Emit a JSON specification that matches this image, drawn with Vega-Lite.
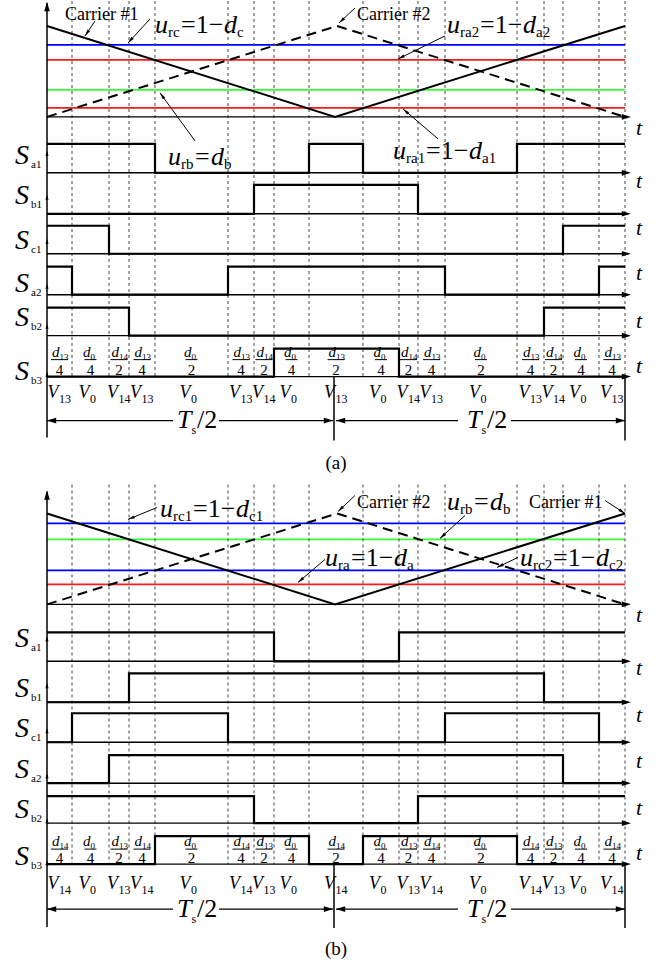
{
"$schema": "https://vega.github.io/schema/vega-lite/v6.json",
"width": 668, "height": 964, "padding": 0,
"autosize": {"type": "fit", "contains": "padding"},
"background": "white",
"config": {"view": {"stroke": null}},
"datasets": {
"levels": [
{"x":47,"x2":625,"y":44,"c":"blue"},{"x":47,"x2":625,"y":59,"c":"red"},{"x":47,"x2":625,"y":89,"c":"green"},{"x":47,"x2":625,"y":107,"c":"red"},
{"x":47,"x2":625,"y":523,"c":"blue"},{"x":47,"x2":625,"y":539,"c":"green"},{"x":47,"x2":625,"y":570,"c":"blue"},{"x":47,"x2":625,"y":584,"c":"red"}
],
"vdash": [
{"x":72,"y":0,"y2":376},{"x":109,"y":0,"y2":376},{"x":129,"y":0,"y2":376},{"x":155,"y":0,"y2":376},{"x":228,"y":0,"y2":376},{"x":254,"y":0,"y2":376},{"x":274,"y":0,"y2":376},{"x":309,"y":0,"y2":376},{"x":363,"y":0,"y2":376},{"x":399,"y":0,"y2":376},{"x":418,"y":0,"y2":376},{"x":445,"y":0,"y2":376},{"x":517,"y":0,"y2":376},{"x":544,"y":0,"y2":376},{"x":563,"y":0,"y2":376},{"x":599,"y":0,"y2":376},{"x":625,"y":0,"y2":376},
{"x":72,"y":484,"y2":864},{"x":109,"y":484,"y2":864},{"x":129,"y":484,"y2":864},{"x":155,"y":484,"y2":864},{"x":228,"y":484,"y2":864},{"x":254,"y":484,"y2":864},{"x":274,"y":484,"y2":864},{"x":309,"y":484,"y2":864},{"x":363,"y":484,"y2":864},{"x":399,"y":484,"y2":864},{"x":418,"y":484,"y2":864},{"x":445,"y":484,"y2":864},{"x":517,"y":484,"y2":864},{"x":544,"y":484,"y2":864},{"x":563,"y":484,"y2":864},{"x":599,"y":484,"y2":864},{"x":625,"y":484,"y2":864}
],
"car1": [{"p":"a","x":47,"y":25},{"p":"a","x":335,"y":116},{"p":"a","x":625,"y":25},{"p":"b","x":47,"y":513},{"p":"b","x":335,"y":604},{"p":"b","x":625,"y":513}],
"car2": [{"p":"a","x":47,"y":116},{"p":"a","x":337,"y":25},{"p":"a","x":625,"y":116},{"p":"b","x":47,"y":604},{"p":"b","x":337,"y":513},{"p":"b","x":625,"y":604}],
"hax": [
{"x":47,"x2":628,"y":116},{"x":47,"x2":628,"y":172},{"x":47,"x2":628,"y":213},{"x":47,"x2":628,"y":253},{"x":47,"x2":628,"y":294},{"x":47,"x2":628,"y":335},{"x":47,"x2":628,"y":376},
{"x":47,"x2":628,"y":604},{"x":47,"x2":628,"y":661},{"x":47,"x2":628,"y":702},{"x":47,"x2":628,"y":742},{"x":47,"x2":628,"y":783},{"x":47,"x2":628,"y":823},{"x":47,"x2":628,"y":864}
],
"vsol": [{"x":47,"y":2,"y2":437},{"x":334,"y":376,"y2":440},{"x":625,"y":376,"y2":440},{"x":47,"y":491,"y2":927},{"x":334,"y":864,"y2":928},{"x":625,"y":864,"y2":928}],
"sig": [
{"id":"aSa1","x":47,"y":143},{"id":"aSa1","x":155,"y":172},{"id":"aSa1","x":309,"y":143},{"id":"aSa1","x":363,"y":172},{"id":"aSa1","x":517,"y":143},{"id":"aSa1","x":625,"y":143},
{"id":"aSb1","x":47,"y":213},{"id":"aSb1","x":254,"y":184},{"id":"aSb1","x":418,"y":213},{"id":"aSb1","x":625,"y":213},
{"id":"aSc1","x":47,"y":225},{"id":"aSc1","x":109,"y":253},{"id":"aSc1","x":563,"y":225},{"id":"aSc1","x":625,"y":225},
{"id":"aSa2","x":47,"y":266},{"id":"aSa2","x":72,"y":294},{"id":"aSa2","x":228,"y":266},{"id":"aSa2","x":445,"y":294},{"id":"aSa2","x":599,"y":266},{"id":"aSa2","x":625,"y":266},
{"id":"aSb2","x":47,"y":307},{"id":"aSb2","x":129,"y":335},{"id":"aSb2","x":544,"y":307},{"id":"aSb2","x":625,"y":307},
{"id":"aSb3","x":47,"y":376},{"id":"aSb3","x":274,"y":348},{"id":"aSb3","x":399,"y":376},{"id":"aSb3","x":625,"y":376},
{"id":"bSa1","x":47,"y":632},{"id":"bSa1","x":274,"y":661},{"id":"bSa1","x":399,"y":632},{"id":"bSa1","x":625,"y":632},
{"id":"bSb1","x":47,"y":702},{"id":"bSb1","x":129,"y":673},{"id":"bSb1","x":544,"y":702},{"id":"bSb1","x":625,"y":702},
{"id":"bSc1","x":47,"y":742},{"id":"bSc1","x":72,"y":713},{"id":"bSc1","x":228,"y":742},{"id":"bSc1","x":445,"y":713},{"id":"bSc1","x":599,"y":742},{"id":"bSc1","x":625,"y":742},
{"id":"bSa2","x":47,"y":783},{"id":"bSa2","x":109,"y":755},{"id":"bSa2","x":563,"y":783},{"id":"bSa2","x":625,"y":783},
{"id":"bSb2","x":47,"y":796},{"id":"bSb2","x":254,"y":823},{"id":"bSb2","x":418,"y":796},{"id":"bSb2","x":625,"y":796},
{"id":"bSb3","x":47,"y":864},{"id":"bSb3","x":155,"y":836},{"id":"bSb3","x":309,"y":864},{"id":"bSb3","x":363,"y":836},{"id":"bSb3","x":517,"y":864},{"id":"bSb3","x":625,"y":864}
],
"tsseg": [{"x":47,"x2":173,"y":420},{"x":219,"x2":333,"y":420},{"x":336,"x2":458,"y":420},{"x":511,"x2":625,"y":420},{"x":47,"x2":173,"y":909},{"x":219,"x2":333,"y":909},{"x":336,"x2":458,"y":909},{"x":511,"x2":625,"y":909}],
"arr": [
{"x":95,"y":20,"x2":85,"y2":35},{"x":150,"y":18,"x2":128,"y2":42},{"x":355,"y":7,"x2":339,"y2":22},{"x":445,"y":35,"x2":398,"y2":58},{"x":195,"y":140,"x2":160,"y2":92},{"x":438,"y":138,"x2":403,"y2":108},
{"x":157,"y":507,"x2":128,"y2":519},{"x":355,"y":495,"x2":338,"y2":511},{"x":465,"y":515,"x2":440,"y2":538},{"x":605,"y":500,"x2":625,"y2":513},{"x":325,"y":559,"x2":298,"y2":582},{"x":518,"y":557,"x2":497,"y2":567}
],
"hR": [
{"x":631,"y":116},{"x":631,"y":172},{"x":631,"y":213},{"x":631,"y":253},{"x":631,"y":294},{"x":631,"y":335},{"x":631,"y":376},
{"x":631,"y":604},{"x":631,"y":661},{"x":631,"y":702},{"x":631,"y":742},{"x":631,"y":783},{"x":631,"y":823},{"x":631,"y":864},
{"x":333,"y":420},{"x":625,"y":420},{"x":333,"y":909},{"x":625,"y":909}
],
"hL": [{"x":47,"y":420},{"x":336,"y":420},{"x":47,"y":909},{"x":336,"y":909}],
"hU": [{"x":47,"y":1},{"x":47,"y":490}],
"hUs": [{"x":47,"y":150},{"x":47,"y":194},{"x":47,"y":238},{"x":47,"y":283},{"x":47,"y":323},{"x":47,"y":371},{"x":47,"y":636},{"x":47,"y":683},{"x":47,"y":728},{"x":47,"y":773},{"x":47,"y":818},{"x":47,"y":860}],
"clbl": [{"x":65,"y":14,"t":"Carrier #1"},{"x":357,"y":14,"t":"Carrier #2"},{"x":357,"y":503,"t":"Carrier #2"},{"x":529,"y":503,"t":"Carrier #1"}],
"bigit": [
{"x":155,"y":32,"t":"u"},{"x":224,"y":32,"t":"d"},{"x":447,"y":32,"t":"u"},{"x":523,"y":32,"t":"d"},
{"x":168,"y":164,"t":"u"},{"x":211,"y":164,"t":"d"},{"x":393,"y":158,"t":"u"},{"x":469,"y":158,"t":"d"},
{"x":160,"y":517,"t":"u"},{"x":236,"y":517,"t":"d"},{"x":447,"y":510,"t":"u"},{"x":490,"y":510,"t":"d"},
{"x":325,"y":566,"t":"u"},{"x":394,"y":566,"t":"d"},{"x":520,"y":566,"t":"u"},{"x":596,"y":566,"t":"d"}
],
"bigup": [
{"x":181,"y":32,"t":"=1−"},{"x":480,"y":32,"t":"=1−"},{"x":195,"y":164,"t":"="},{"x":426,"y":158,"t":"=1−"},
{"x":193,"y":517,"t":"=1−"},{"x":474,"y":510,"t":"="},{"x":351,"y":566,"t":"=1−"},{"x":553,"y":566,"t":"=1−"}
],
"sub15": [
{"x":168,"y":36,"t":"rc"},{"x":237,"y":36,"t":"c"},{"x":460,"y":36,"t":"ra2"},{"x":536,"y":36,"t":"a2"},
{"x":181,"y":168,"t":"rb"},{"x":224,"y":168,"t":"b"},{"x":406,"y":162,"t":"ra1"},{"x":482,"y":162,"t":"a1"},
{"x":173,"y":521,"t":"rc1"},{"x":249,"y":521,"t":"c1"},{"x":460,"y":514,"t":"rb"},{"x":503,"y":514,"t":"b"},
{"x":338,"y":570,"t":"ra"},{"x":407,"y":570,"t":"a"},{"x":533,"y":570,"t":"rc2"},{"x":609,"y":570,"t":"c2"}
],
"slab": [
{"x":15,"y":163,"sub":"a1"},{"x":15,"y":203,"sub":"b1"},{"x":15,"y":248,"sub":"c1"},{"x":15,"y":291,"sub":"a2"},{"x":15,"y":325,"sub":"b2"},{"x":15,"y":379,"sub":"b3"},
{"x":15,"y":647,"sub":"a1"},{"x":15,"y":697,"sub":"b1"},{"x":15,"y":737,"sub":"c1"},{"x":15,"y":778,"sub":"a2"},{"x":15,"y":818,"sub":"b2"},{"x":15,"y":865,"sub":"b3"}
],
"tl": [{"x":636,"y":134},{"x":636,"y":187},{"x":636,"y":234},{"x":636,"y":279},{"x":636,"y":327},{"x":636,"y":372},{"x":636,"y":622},{"x":636,"y":675},{"x":636,"y":722},{"x":636,"y":768},{"x":636,"y":815},{"x":636,"y":860}],
"vlab": [
{"x":59.5,"y":397,"sub":"13"},{"x":90.5,"y":397,"sub":"0"},{"x":119,"y":397,"sub":"14"},{"x":142,"y":397,"sub":"13"},{"x":191.5,"y":397,"sub":"0"},{"x":241,"y":397,"sub":"13"},{"x":264,"y":397,"sub":"14"},{"x":291.5,"y":397,"sub":"0"},{"x":336,"y":397,"sub":"13"},{"x":381,"y":397,"sub":"0"},{"x":408.5,"y":397,"sub":"14"},{"x":431.5,"y":397,"sub":"13"},{"x":481,"y":397,"sub":"0"},{"x":530.5,"y":397,"sub":"13"},{"x":553.5,"y":397,"sub":"14"},{"x":581,"y":397,"sub":"0"},{"x":612,"y":397,"sub":"13"},
{"x":59.5,"y":889,"sub":"14"},{"x":90.5,"y":889,"sub":"0"},{"x":119,"y":889,"sub":"13"},{"x":142,"y":889,"sub":"14"},{"x":191.5,"y":889,"sub":"0"},{"x":241,"y":889,"sub":"14"},{"x":264,"y":889,"sub":"13"},{"x":291.5,"y":889,"sub":"0"},{"x":336,"y":889,"sub":"14"},{"x":381,"y":889,"sub":"0"},{"x":408.5,"y":889,"sub":"13"},{"x":431.5,"y":889,"sub":"14"},{"x":481,"y":889,"sub":"0"},{"x":530.5,"y":889,"sub":"14"},{"x":553.5,"y":889,"sub":"13"},{"x":581,"y":889,"sub":"0"},{"x":612,"y":889,"sub":"14"}
],
"frac": [
{"x":59.5,"y":356,"yb":359,"yd":374,"n":"13","den":"4"},{"x":90.5,"y":356,"yb":359,"yd":374,"n":"0","den":"4"},{"x":119,"y":356,"yb":359,"yd":374,"n":"14","den":"2"},{"x":142,"y":356,"yb":359,"yd":374,"n":"13","den":"4"},{"x":191.5,"y":356,"yb":359,"yd":374,"n":"0","den":"2"},{"x":241,"y":356,"yb":359,"yd":374,"n":"13","den":"4"},{"x":264,"y":356,"yb":359,"yd":374,"n":"14","den":"2"},{"x":291.5,"y":356,"yb":359,"yd":374,"n":"0","den":"4"},{"x":336,"y":356,"yb":359,"yd":374,"n":"13","den":"2"},{"x":381,"y":356,"yb":359,"yd":374,"n":"0","den":"4"},{"x":408.5,"y":356,"yb":359,"yd":374,"n":"14","den":"2"},{"x":431.5,"y":356,"yb":359,"yd":374,"n":"13","den":"4"},{"x":481,"y":356,"yb":359,"yd":374,"n":"0","den":"2"},{"x":530.5,"y":356,"yb":359,"yd":374,"n":"13","den":"4"},{"x":553.5,"y":356,"yb":359,"yd":374,"n":"14","den":"2"},{"x":581,"y":356,"yb":359,"yd":374,"n":"0","den":"4"},{"x":612,"y":356,"yb":359,"yd":374,"n":"13","den":"4"},
{"x":59.5,"y":846,"yb":849,"yd":863,"n":"14","den":"4"},{"x":90.5,"y":846,"yb":849,"yd":863,"n":"0","den":"4"},{"x":119,"y":846,"yb":849,"yd":863,"n":"13","den":"2"},{"x":142,"y":846,"yb":849,"yd":863,"n":"14","den":"4"},{"x":191.5,"y":846,"yb":849,"yd":863,"n":"0","den":"2"},{"x":241,"y":846,"yb":849,"yd":863,"n":"14","den":"4"},{"x":264,"y":846,"yb":849,"yd":863,"n":"13","den":"2"},{"x":291.5,"y":846,"yb":849,"yd":863,"n":"0","den":"4"},{"x":336,"y":846,"yb":849,"yd":863,"n":"14","den":"2"},{"x":381,"y":846,"yb":849,"yd":863,"n":"0","den":"4"},{"x":408.5,"y":846,"yb":849,"yd":863,"n":"13","den":"2"},{"x":431.5,"y":846,"yb":849,"yd":863,"n":"14","den":"4"},{"x":481,"y":846,"yb":849,"yd":863,"n":"0","den":"2"},{"x":530.5,"y":846,"yb":849,"yd":863,"n":"14","den":"4"},{"x":553.5,"y":846,"yb":849,"yd":863,"n":"13","den":"2"},{"x":581,"y":846,"yb":849,"yd":863,"n":"0","den":"4"},{"x":612,"y":846,"yb":849,"yd":863,"n":"14","den":"4"}
],
"ts": [{"x":177,"y":427},{"x":467,"y":427},{"x":177,"y":917},{"x":467,"y":917}],
"cap": [{"x":336,"y":468,"t":"(a)"},{"x":336,"y":955,"t":"(b)"}]
},
"encoding": {
"x": {"field": "x", "type": "quantitative", "scale": {"domain": [0, 668], "nice": false, "zero": false}, "axis": null},
"y": {"field": "y", "type": "quantitative", "scale": {"domain": [0, 964], "nice": false, "zero": false, "reverse": true}, "axis": null}
},
"layer": [
{"data": {"name": "levels"}, "mark": {"type": "rule", "strokeWidth": 1.8},
 "encoding": {"x2": {"field": "x2"}, "color": {"field": "c", "type": "nominal", "scale": {"domain": ["blue", "red", "green"], "range": ["#0000ff", "#ff1a1a", "#33ff33"]}, "legend": null}}},
{"data": {"name": "vdash"}, "mark": {"type": "rule", "strokeWidth": 1, "strokeDash": [3, 3], "color": "#444444"},
 "encoding": {"y2": {"field": "y2"}}},
{"data": {"name": "car1"}, "mark": {"type": "line", "strokeWidth": 2, "color": "black"}, "encoding": {"detail": {"field": "p"}}},
{"data": {"name": "car2"}, "mark": {"type": "line", "strokeWidth": 2, "color": "black", "strokeDash": [10, 6]}, "encoding": {"detail": {"field": "p"}}},
{"data": {"name": "hax"}, "mark": {"type": "rule", "strokeWidth": 1.4, "color": "black"}, "encoding": {"x2": {"field": "x2"}}},
{"data": {"name": "vsol"}, "mark": {"type": "rule", "strokeWidth": 1.5, "color": "black"}, "encoding": {"y2": {"field": "y2"}}},
{"data": {"name": "sig"}, "mark": {"type": "line", "interpolate": "step-after", "strokeWidth": 2.2, "color": "black"}, "encoding": {"detail": {"field": "id"}}},
{"data": {"name": "tsseg"}, "mark": {"type": "rule", "strokeWidth": 1.3, "color": "black"}, "encoding": {"x2": {"field": "x2"}}},
{"data": {"name": "arr"}, "mark": {"type": "rule", "strokeWidth": 1, "color": "black"}, "encoding": {"x2": {"field": "x2"}, "y2": {"field": "y2"}}},
{"data": {"name": "arr"}, "transform": [{"calculate": "atan2(datum.x2 - datum.x, datum.y - datum.y2) * 180 / PI", "as": "ang"}],
 "mark": {"type": "point", "shape": "M0,0L0.3,1.3L-0.3,1.3Z", "size": 110, "filled": true, "color": "black", "opacity": 1, "strokeWidth": 0},
 "encoding": {"x": {"field": "x2", "type": "quantitative"}, "y": {"field": "y2", "type": "quantitative"}, "angle": {"field": "ang", "type": "quantitative", "scale": null}}},
{"data": {"name": "hR"}, "mark": {"type": "point", "shape": "M0,0L0.4,1.3L-0.4,1.3Z", "size": 200, "angle": 90, "filled": true, "color": "black", "opacity": 1, "strokeWidth": 0}},
{"data": {"name": "hL"}, "mark": {"type": "point", "shape": "M0,0L0.4,1.3L-0.4,1.3Z", "size": 200, "angle": 270, "filled": true, "color": "black", "opacity": 1, "strokeWidth": 0}},
{"data": {"name": "hU"}, "mark": {"type": "point", "shape": "M0,0L0.4,1.3L-0.4,1.3Z", "size": 200, "angle": 0, "filled": true, "color": "black", "opacity": 1, "strokeWidth": 0}},
{"data": {"name": "hUs"}, "mark": {"type": "point", "shape": "M0,0L0.4,1.3L-0.4,1.3Z", "size": 60, "angle": 0, "filled": true, "color": "black", "opacity": 1, "strokeWidth": 0}},
{"data": {"name": "clbl"}, "mark": {"type": "text", "font": "Liberation Serif", "fontSize": 18, "align": "left", "baseline": "middle", "color": "black"}, "encoding": {"text": {"field": "t"}}},
{"data": {"name": "bigit"}, "mark": {"type": "text", "font": "Liberation Serif", "fontSize": 26, "fontStyle": "italic", "align": "left", "baseline": "alphabetic", "color": "black"}, "encoding": {"text": {"field": "t"}}},
{"data": {"name": "bigup"}, "mark": {"type": "text", "font": "Liberation Serif", "fontSize": 26, "align": "left", "baseline": "alphabetic", "color": "black"}, "encoding": {"text": {"field": "t"}}},
{"data": {"name": "sub15"}, "mark": {"type": "text", "font": "Liberation Serif", "fontSize": 15, "align": "left", "baseline": "alphabetic", "color": "black"}, "encoding": {"text": {"field": "t"}}},
{"data": {"name": "slab"}, "mark": {"type": "text", "font": "Liberation Serif", "fontSize": 28, "fontStyle": "italic", "align": "left", "baseline": "alphabetic", "color": "black"}, "encoding": {"text": {"value": "S"}}},
{"data": {"name": "slab"}, "mark": {"type": "text", "font": "Liberation Serif", "fontSize": 11, "align": "left", "baseline": "alphabetic", "dx": 16, "dy": 4, "color": "black"}, "encoding": {"text": {"field": "sub"}}},
{"data": {"name": "tl"}, "mark": {"type": "text", "font": "Liberation Serif", "fontSize": 22, "fontStyle": "italic", "align": "left", "baseline": "alphabetic", "color": "black"}, "encoding": {"text": {"value": "t"}}},
{"data": {"name": "vlab"}, "mark": {"type": "text", "font": "Liberation Serif", "fontSize": 18, "fontStyle": "italic", "align": "right", "baseline": "alphabetic", "dx": -1, "color": "black"}, "encoding": {"text": {"value": "V"}}},
{"data": {"name": "vlab"}, "mark": {"type": "text", "font": "Liberation Serif", "fontSize": 12, "align": "left", "baseline": "alphabetic", "dx": -0.5, "dy": 5, "color": "black"}, "encoding": {"text": {"field": "sub"}}},
{"data": {"name": "frac"}, "mark": {"type": "text", "font": "Liberation Serif", "fontSize": 15, "fontStyle": "italic", "align": "right", "baseline": "alphabetic", "color": "black"}, "encoding": {"text": {"value": "d"}}},
{"data": {"name": "frac"}, "mark": {"type": "text", "font": "Liberation Serif", "fontSize": 9, "align": "left", "baseline": "alphabetic", "dy": 3, "color": "black"}, "encoding": {"text": {"field": "n"}}},
{"data": {"name": "frac"}, "transform": [{"filter": "datum.n != '0'"}], "mark": {"type": "tick", "orient": "horizontal", "size": 17, "thickness": 1, "color": "black", "opacity": 1}, "encoding": {"y": {"field": "yb", "type": "quantitative"}}},
{"data": {"name": "frac"}, "transform": [{"filter": "datum.n == '0'"}], "mark": {"type": "tick", "orient": "horizontal", "size": 12, "thickness": 1, "color": "black", "opacity": 1}, "encoding": {"y": {"field": "yb", "type": "quantitative"}}},
{"data": {"name": "frac"}, "mark": {"type": "text", "font": "Liberation Serif", "fontSize": 15, "align": "center", "baseline": "alphabetic", "color": "black"}, "encoding": {"y": {"field": "yd", "type": "quantitative"}, "text": {"field": "den"}}},
{"data": {"name": "ts"}, "mark": {"type": "text", "font": "Liberation Serif", "fontSize": 26, "fontStyle": "italic", "align": "left", "baseline": "alphabetic", "color": "black"}, "encoding": {"text": {"value": "T"}}},
{"data": {"name": "ts"}, "mark": {"type": "text", "font": "Liberation Serif", "fontSize": 12, "align": "left", "baseline": "alphabetic", "dx": 14.5, "dy": 6, "color": "black"}, "encoding": {"text": {"value": "s"}}},
{"data": {"name": "ts"}, "mark": {"type": "text", "font": "Liberation Serif", "fontSize": 26, "align": "left", "baseline": "alphabetic", "dx": 20, "color": "black"}, "encoding": {"text": {"value": "/2"}}},
{"data": {"name": "cap"}, "mark": {"type": "text", "font": "Liberation Serif", "fontSize": 19, "align": "center", "baseline": "alphabetic", "color": "black"}, "encoding": {"text": {"field": "t"}}}
]
}
